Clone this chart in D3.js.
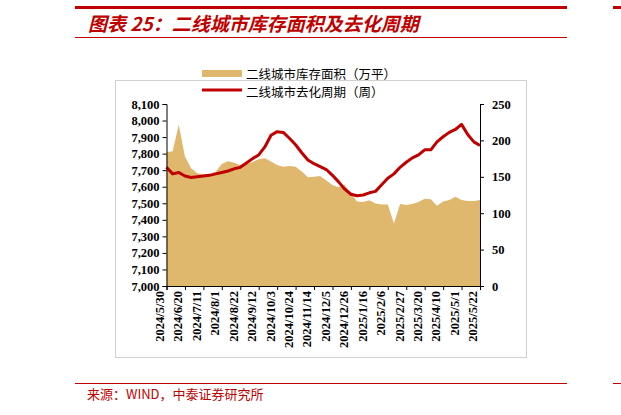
<!DOCTYPE html>
<html><head><meta charset="utf-8">
<script src="https://cdn.jsdelivr.net/npm/d3@7"></script>
<style>body{margin:0;background:#fff}svg{display:block}</style>
</head><body>
<script>
const startDate = new Date(2024, 4, 30);
const nWeeks = 52;
const inventory = [7809,7815,7975,7782,7712,7681,7675,7675,7690,7738,7754,7745,7732,7738,7750,7766,7772,7752,7732,7720,7726,7720,7692,7657,7661,7665,7637,7611,7597,7611,7560,7510,7508,7518,7499,7493,7493,7378,7495,7489,7495,7508,7528,7524,7485,7510,7520,7540,7520,7514,7514,7520];
const cycle = [163,154,156,151,149,150,151,152,154,156,158,161,163,169,175,180,191,207,212,211,203,194,183,173,168,164,160,152,143,133,126,124,125,128,130,139,148,154,163,170,176,180,187,187,198,205,211,215,222,208,198,193];
const leftTicks = [7000,7100,7200,7300,7400,7500,7600,7700,7800,7900,8000,8100];
const rightTicks = [0,50,100,150,200,250];
const legendLabels = ["二线城市库存面积（万平）","二线城市去化周期（周）"];

const W=621,H=415;
const svg=d3.select("body").append("svg").attr("width",W).attr("height",H);
const red="#c00000", gold="#dfb86e";
// header
svg.append("rect").attr("x",75).attr("y",6).attr("width",492).attr("height",3).attr("fill",red);
svg.append("rect").attr("x",613).attr("y",6).attr("width",8).attr("height",3).attr("fill",red);
svg.append("rect").attr("x",75).attr("y",37).attr("width",492).attr("height",1).attr("fill",red);
svg.append("text").attr("x",88).attr("y",31).attr("fill",red).attr("font-size",19).attr("font-weight","bold").attr("font-style","italic")
  .attr("font-family","Noto Sans CJK SC").text("图表 25：二线城市库存面积及去化周期");
// footer
svg.append("rect").attr("x",75).attr("y",383).attr("width",492).attr("height",1).attr("fill",red);
svg.append("rect").attr("x",613).attr("y",383).attr("width",8).attr("height",1).attr("fill",red);
svg.append("text").attr("x",87).attr("y",399).attr("fill",red).attr("font-size",13).attr("font-family","Noto Sans CJK SC").text("来源：WIND，中泰证券研究所");
// frame
svg.append("rect").attr("x",115.5).attr("y",80.5).attr("width",411).attr("height",277).attr("fill","none").attr("stroke","#d0d0d0");

const dates=d3.range(nWeeks).map(i=>d3.timeDay.offset(startDate,7*i));
const x=d3.scaleTime().domain([dates[0],dates[nWeeks-1]]).range([166.5,480]);
const yL=d3.scaleLinear().domain([7000,8100]).range([286,104]);
const yR=d3.scaleLinear().domain([0,250]).range([286,104]);

svg.append("path").datum(inventory).attr("fill",gold)
  .attr("d",d3.area().x((d,i)=>x(dates[i])).y0(yL(7000)).y1(d=>yL(d)));
svg.append("path").datum(cycle).attr("fill","none").attr("stroke",red).attr("stroke-width",3).attr("stroke-linejoin","round")
  .attr("d",d3.line().x((d,i)=>x(dates[i])).y(d=>yR(d)));

const font="Liberation Serif";
const axL=svg.append("g").attr("transform","translate(166.5,0)").call(d3.axisLeft(yL).tickValues(leftTicks).tickFormat(d3.format(",")).tickSize(4));
const axR=svg.append("g").attr("transform","translate(480,0)").call(d3.axisRight(yR).tickValues(rightTicks).tickSize(4));
const tickDates=d3.range(0,nWeeks,3).map(i=>dates[i]);
const axB=svg.append("g").attr("transform","translate(0,286)").call(d3.axisBottom(x).tickValues(tickDates).tickSize(4)
  .tickFormat(d=>`${d.getFullYear()}/${d.getMonth()+1}/${d.getDate()}`));
[axL,axR,axB].forEach(a=>{a.selectAll("path,line").attr("stroke","#000");a.selectAll("text").attr("font-family",font).attr("font-weight","bold").attr("font-size",12.5).attr("fill","#000");});
axB.selectAll("text").attr("transform","rotate(-90)").attr("text-anchor","end").attr("dx","-0.4em").attr("dy","-0.25em").attr("x",0).attr("y",0);
axR.selectAll("text").attr("dx","0.4em");

// legend
const lg=svg.append("g");
lg.append("rect").attr("x",202).attr("y",70).attr("width",40).attr("height",7).attr("fill",gold);
lg.append("line").attr("x1",202).attr("x2",242).attr("y1",90).attr("y2",90).attr("stroke",red).attr("stroke-width",3);
legendLabels.forEach((t,i)=>lg.append("text").attr("x",246).attr("y",79+i*18).attr("font-size",12.5).attr("font-family","Noto Sans CJK SC").attr("fill","#000").text(t));
</script>
</body></html>
